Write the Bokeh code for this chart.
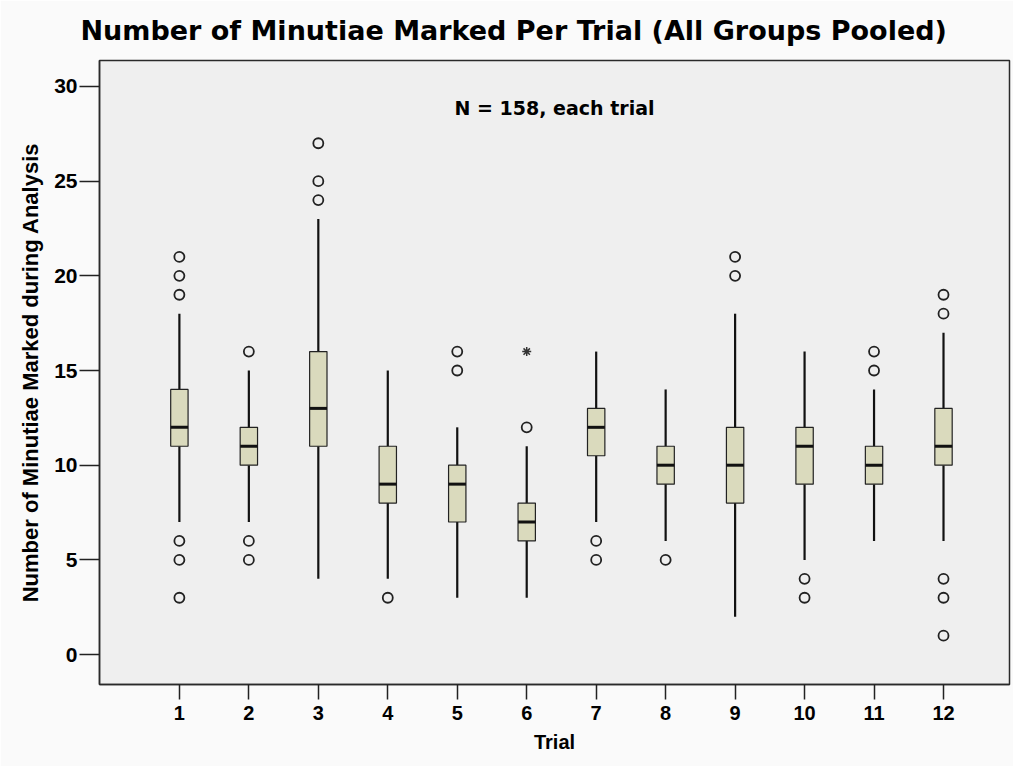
from bokeh.plotting import figure
from bokeh.models import Range1d, FixedTicker, Label, ColumnDataSource
from bokeh.embed import file_html
from bokeh.resources import INLINE

# ---- data ----
trials = [1, 2, 3, 4, 5, 6, 7, 8, 9, 10, 11, 12]
whisker_low = [7, 7, 4, 4, 3, 3, 7, 6, 2, 5, 6, 6]
q1 = [11, 10, 11, 8, 7, 6, 10.5, 9, 8, 9, 9, 10]
median = [12, 11, 13, 9, 9, 7, 12, 10, 10, 11, 10, 11]
q3 = [14, 12, 16, 11, 10, 8, 13, 11, 12, 12, 11, 13]
whisker_high = [18, 15, 23, 15, 12, 11, 16, 14, 18, 16, 14, 17]
outliers = {
    1: [21, 20, 19, 6, 5, 3],
    2: [16, 6, 5],
    3: [27, 25, 24],
    4: [3],
    5: [16, 15],
    6: [12],
    7: [6, 5],
    8: [5],
    9: [21, 20],
    10: [4, 3],
    11: [16, 15],
    12: [19, 18, 4, 3, 1],
}
extremes = {6: [16]}
y_ticks = [0, 5, 10, 15, 20, 25, 30]
tick_labels = {t: str(t) for t in trials}
title_text = "Number of Minutiae Marked Per Trial (All Groups Pooled)"
note_text = "N = 158, each trial"

FONT = "Liberation Sans"
WIDE = "DejaVu Sans"

X0, X1 = -0.15, 12.95
Y0, Y1 = -1.58, 31.37

p = figure(width=1013, height=766, output_backend="svg", toolbar_location=None,
           x_range=Range1d(X0, X1), y_range=Range1d(Y0, Y1),
           min_border_left=99, min_border_right=4, min_border_top=60, min_border_bottom=82,
           background_fill_color="#efefef", border_fill_color="#fafafa",
           outline_line_color="#2a2a2a", outline_line_width=1.5)

p.title.text = title_text
p.title.text_font = WIDE
p.title.text_font_style = "bold"
p.title.text_font_size = "27px"
p.title.text_color = "#000000"
p.title.align = "left"
p.title.vertical_align = "top"
p.title.offset = -19
p.title.standoff = 26

p.xgrid.visible = False
p.ygrid.visible = False

for ax in (p.xaxis[0], p.yaxis[0]):
    ax.axis_line_color = "#2a2a2a"
    ax.axis_line_width = 1.5
    ax.major_tick_line_color = "#222222"
    ax.major_tick_line_width = 1.5
    ax.major_tick_in = 0
    ax.minor_tick_line_color = None
    ax.major_label_text_font = FONT
    ax.major_label_text_font_style = "bold"
    ax.major_label_text_color = "#000000"
    ax.axis_label_text_font = FONT
    ax.axis_label_text_font_style = "bold"
    ax.axis_label_text_color = "#000000"

p.xaxis.ticker = FixedTicker(ticks=trials)
p.xaxis.major_label_overrides = tick_labels
p.xaxis.major_label_text_font_size = "20px"
p.xaxis.major_tick_out = 15
p.xaxis.major_label_standoff = 6
p.xaxis.axis_label = "Trial"
p.xaxis.axis_label_text_font_size = "20px"
p.xaxis.axis_label_standoff = 8

p.yaxis.ticker = FixedTicker(ticks=y_ticks)
p.yaxis.major_label_text_font_size = "21px"
p.yaxis.major_tick_out = 20
p.yaxis.major_label_standoff = 2
p.yaxis.axis_label = "Number of Minutiae Marked during Analysis"
p.yaxis.axis_label_text_font_size = "22px"
p.yaxis.axis_label_standoff = 8

src = ColumnDataSource(dict(x=trials, lo=whisker_low, q1=q1, med=median, q3=q3, hi=whisker_high))

# whiskers
p.segment(x0="x", y0="lo", x1="x", y1="q1", source=src, line_color="#111111", line_width=2.2)
p.segment(x0="x", y0="q3", x1="x", y1="hi", source=src, line_color="#111111", line_width=2.2)
# boxes
p.vbar(x="x", bottom="q1", top="q3", width=0.25, source=src,
       fill_color="#dadabd", line_color="#222222", line_width=1.2)
# medians
mx0 = [t - 0.125 for t in trials]
mx1 = [t + 0.125 for t in trials]
p.segment(x0=mx0, y0=median, x1=mx1, y1=median, line_color="#111111", line_width=3)

# outliers
ox, oy = [], []
for t, vals in outliers.items():
    for v in vals:
        ox.append(t)
        oy.append(v)
p.scatter(ox, oy, marker="circle", size=10, fill_color=None, line_color="#222222", line_width=1.8)

ex, ey = [], []
for t, vals in extremes.items():
    for v in vals:
        ex.append(t)
        ey.append(v)
p.scatter(ex, ey, marker="asterisk", size=9, line_color="#333333", line_width=1.5)

# annotation inside plot
p.add_layout(Label(x=6.4, y=28.84, text=note_text, text_font=WIDE, text_font_style="bold",
                   text_font_size="19px", text_align="center", text_baseline="middle",
                   text_color="#000000"))

open("out.html", "w").write(file_html(p, INLINE))
